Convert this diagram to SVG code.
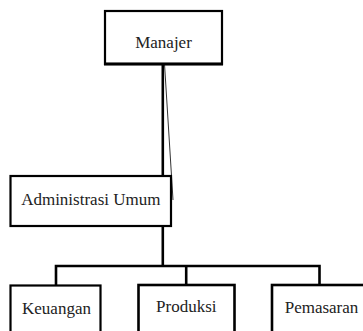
<svg xmlns="http://www.w3.org/2000/svg" width="363" height="331" viewBox="0 0 363 331">
<style>
.box{fill:#fff;stroke:#000;stroke-width:2.2}
.lbl{font-family:'Liberation Serif','Times New Roman',serif;font-size:17px;fill:#222;text-anchor:middle}
.ln{stroke:#000;stroke-width:2.6;fill:none}
.thin{stroke:#333;stroke-width:1;fill:none}
</style>
<rect width="363" height="331" fill="#fff"/>
<g id="connectors">
<line class="ln" x1="162.8" y1="64" x2="162.8" y2="176"/>
<line class="thin" x1="164.5" y1="64" x2="173" y2="200"/>
<line class="ln" x1="162.8" y1="226" x2="162.8" y2="266"/>
<polyline class="ln" points="56,285 56,266 319.5,266 319.5,285"/>
<line class="ln" x1="186.2" y1="266" x2="186.2" y2="285"/>
</g>
<g id="manajer">
<rect class="box" x="105" y="11" width="117" height="53"/>
<line x1="104" y1="64" x2="223" y2="64" stroke="#000" stroke-width="3.2"/>
<text class="lbl" x="163.5" y="48">Manajer</text>
</g>
<g id="administrasi">
<rect class="box" x="10.5" y="176" width="160.5" height="50"/>
<text class="lbl" x="90.8" y="205">Administrasi Umum</text>
</g>
<g id="keuangan">
<rect class="box" x="10.5" y="285.5" width="90" height="60"/>
<text class="lbl" x="56.5" y="314">Keuangan</text>
</g>
<g id="produksi">
<rect class="box" x="138.5" y="285" width="96" height="60" style="stroke-width:2.6"/>
<text class="lbl" x="186.3" y="312">Produksi</text>
</g>
<g id="pemasaran">
<rect class="box" x="272" y="285" width="100" height="60" style="stroke-width:2.6"/>
<text class="lbl" x="321.5" y="313">Pemasaran</text>
</g>
</svg>
